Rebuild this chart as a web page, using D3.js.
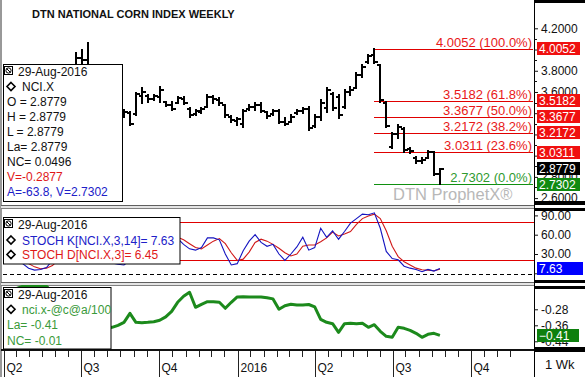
<!DOCTYPE html>
<html><head><meta charset="utf-8">
<script src="https://cdn.jsdelivr.net/npm/d3@7"></script>
<style>body{margin:0;background:#fff}svg{display:block}text{font-family:"Liberation Sans",Arial,sans-serif}</style>
</head><body><svg id="c" width="585" height="377"></svg>
<script>
// ---------------- DATA ----------------
const firstWeek = "2015-04-06";
const open  = [3.52,3.48,3.42,3.40,3.34,3.30,3.27,3.30,3.28,3.35, 3.40,3.42,3.68,3.92,3.90,3.84,3.62,3.55,3.48,3.33,
  3.38,3.40,3.39,3.56,3.56,3.53,3.55,3.51,3.48,3.50, 3.53,3.44,3.39,3.41,3.46,3.55,3.52,3.48,3.36,3.33,
  3.30,3.44,3.46,3.48,3.41,3.39,3.42,3.32,3.32,3.40, 3.42,3.44,3.28,3.36,3.45,3.58,3.55,3.46,3.60,3.64,
  3.76,3.88,3.95,3.85,3.50,3.08,3.20,3.25,3.06,2.98, 2.95,2.98,3.03,2.8283];
const high  = [3.55,3.50,3.45,3.42,3.38,3.33,3.32,3.33,3.36,3.42, 3.45,3.70,3.97,4.00,4.06,3.84,3.65,3.58,3.50,3.40,
  3.43,3.41,3.59,3.64,3.57,3.57,3.65,3.51,3.51,3.55, 3.55,3.45,3.43,3.45,3.57,3.56,3.54,3.48,3.37,3.355,
  3.43,3.48,3.50,3.50,3.41,3.43,3.43,3.355,3.38,3.43, 3.45,3.46,3.38,3.525,3.64,3.59,3.57,3.62,3.65,3.78,
  3.855,3.95,4.0052,3.855,3.506,3.213,3.29,3.26,3.072,2.987, 2.98,3.04,3.034,2.8779];
const low   = [3.45,3.40,3.36,3.32,3.28,3.25,3.24,3.25,3.27,3.32, 3.36,3.40,3.66,3.85,3.80,3.60,3.50,3.44,3.30,3.28,
  3.36,3.29,3.38,3.50,3.51,3.52,3.51,3.47,3.43,3.50, 3.49,3.36,3.38,3.40,3.46,3.50,3.48,3.36,3.32,3.29,
  3.27,3.43,3.43,3.41,3.355,3.38,3.31,3.29,3.32,3.39, 3.40,3.24,3.27,3.34,3.41,3.43,3.355,3.45,3.57,3.64,
  3.74,3.873,3.873,3.506,3.27,3.072,3.17,3.034,3.025,2.931, 2.931,2.98,2.82,2.7302];
const close = [3.48,3.42,3.40,3.34,3.30,3.27,3.30,3.28,3.35,3.40, 3.42,3.68,3.92,3.90,3.84,3.62,3.55,3.48,3.33,3.38,
  3.41,3.30,3.58,3.60,3.53,3.56,3.62,3.48,3.44,3.54, 3.50,3.38,3.42,3.44,3.55,3.53,3.50,3.38,3.34,3.35,
  3.42,3.46,3.48,3.42,3.37,3.42,3.32,3.30,3.36,3.42, 3.44,3.26,3.36,3.50,3.62,3.45,3.38,3.60,3.62,3.76,
  3.84,3.94,3.88,3.52,3.28,3.20,3.27,3.05,3.04,2.95, 2.96,3.03,2.8283,2.8779];
const stochK = [40,30,22,15,8,5,6,9,20,35, 40,65,80,85,86,55,40,35,16,14,
  13,20,45,58,55,57,65,55,58,54, 45,38,36,40,55,55,52,30,13,15,
  35,50,60,48,42,45,30,20,30,41, 56,36,40,70,56,66,53,65,78,85,
  92,91,94,70,34,23,21,11,8,6, 2.5,6,3.5,7.63];
const stochD = [45,38,30,22,15,10,7,8,12,21, 32,47,62,77,84,75,60,43,30,22,
  15,16,26,41,53,56,59,59,59,56, 52,46,40,38,44,50,54,46,32,20,
  22,33,48,53,50,45,39,32,27,30, 42,44,44,49,55,64,58,61,65,76,
  85,89,92,85,66,42,26,18,13,8, 5.5,5,4,6.45];
const basis = [-0.20,-0.19,-0.175,-0.165,-0.163,-0.163,-0.163,-0.165,-0.19,-0.22, -0.25,-0.28,-0.30,-0.32,-0.33,-0.34,-0.36,-0.375,-0.37,-0.36,
  -0.345,-0.30,-0.345,-0.347,-0.345,-0.342,-0.335,-0.318,-0.29,-0.245, -0.215,-0.195,-0.27,-0.255,-0.242,-0.242,-0.245,-0.275,-0.245,-0.218,
  -0.217,-0.218,-0.218,-0.218,-0.222,-0.228,-0.28,-0.262,-0.255,-0.258, -0.258,-0.256,-0.268,-0.33,-0.345,-0.352,-0.395,-0.352,-0.35,-0.352,
  -0.35,-0.37,-0.357,-0.39,-0.415,-0.42,-0.37,-0.375,-0.385,-0.40, -0.42,-0.405,-0.40,-0.41];

const fibValues = [4.0052,3.5182,3.3677,3.2172,3.0311,2.7302];
const fibPcts   = ["100.0%","61.8%","50.0%","38.2%","23.6%","0.0%"];
const priceTicks = [4.2,4.0,3.8,3.6,3.4,3.2,3.0,2.8,2.6];
const priceTickLabels = ["4.2000","","3.8000","3.6000","","","","2.8000","2.6000"]; // others hidden behind value boxes
const stochTicks = [90,60,30,0];
const stochTickLabels = ["90.00","60.00","30.00",""];
const stochBands = [80,20];
const basisTicks = [-0.28,-0.36,-0.44];
const basisTickLabels = ["-0.28","-0.36","-0.44"];
const quarterDates  = ["2015-04-01","2015-07-01","2015-10-01","2016-01-01","2016-04-01","2016-07-01","2016-10-01"];
const quarterLabels = ["Q2","Q3","Q4","2016","Q2","Q3","Q4"];
const lastPrice = 2.8779, lastK = 7.63, lastD = 6.45, lastBasis = -0.41;
const legendMain  = ["O = 2.8779","H = 2.8779","L = 2.8779","La= 2.8779","NC= 0.0496"];
const legendMainV = "V=-0.2877", legendMainA = "A=-63.8, V=2.7302";
const legendDate = "29-Aug-2016";

// ---------------- LAYOUT ----------------
const parse = d3.timeParse("%Y-%m-%d");
const svg = d3.select("#c");
const PL = 3, PR = 534;
const RED = "#e00000", LRED = "#e81818", GREEN = "#1c8a1c";

const x = d3.scaleTime().domain([parse("2015-07-01"), parse("2016-10-01")]).range([81, 471]);
const yP = d3.scaleLinear().domain([2.6, 4.2]).range([198.1, 28.3]);
const yS = d3.scaleLinear().domain([0, 90]).range([273.3, 215.4]);
const yB = d3.scaleLinear().domain([-0.44, -0.28]).range([341.3, 309.3]);

const start = parse(firstWeek);
const weeks = open.map((_, i) => d3.timeDay.offset(start, 7 * i));
const bx = i => Math.round(x(weeks[i]) - 3);

const defs = svg.append("defs");
function clip(id, y0, y1) { defs.append("clipPath").attr("id", id).append("rect").attr("x", PL).attr("y", y0).attr("width", PR - PL).attr("height", y1 - y0); }
clip("cm", 0, 205); clip("cs", 208, 283); clip("cb", 285, 349);

// frame and separators
svg.append("line").attr("x1", 1).attr("x2", 1).attr("y1", 0).attr("y2", 377).attr("stroke", "#333");
[[205.5, 208.5], [282.5, 285.5]].forEach(([a, b]) => {
  svg.append("rect").attr("x", 1).attr("y", a).attr("width", PR - 1).attr("height", b - a).attr("fill", "#e4e4e4");
  svg.append("line").attr("x1", 1).attr("x2", PR).attr("y1", a).attr("y2", a).attr("stroke", "#606060");
  svg.append("line").attr("x1", 1).attr("x2", PR).attr("y1", b).attr("y2", b).attr("stroke", "#808080");
});

// title
svg.append("text").attr("x", 32).attr("y", 18).attr("font-size", 11).attr("font-weight", "bold").attr("fill", "#111").text("DTN NATIONAL CORN INDEX WEEKLY");

// ---------- main panel ----------
const gm = svg.append("g").attr("clip-path", "url(#cm)");
gm.append("text").attr("x", 393).attr("y", 200).attr("font-family", "Liberation Mono, monospace").attr("font-size", 16.5)
  .attr("fill", "#b8b8b8").text("DTN ProphetX\u00AE");
const peakI = d3.maxIndex(high.slice(40)) + 40;
const fx0 = bx(peakI);
fibValues.forEach((v, k) => {
  const yy = Math.round(yP(v)) + 0.5, isLow = k === fibValues.length - 1;
  gm.append("line").attr("x1", fx0).attr("x2", 533).attr("y1", yy).attr("y2", yy)
    .attr("stroke", isLow ? "#109010" : RED).attr("stroke-width", 1).attr("shape-rendering", "crispEdges");
  gm.append("text").attr("x", 532).attr("y", yy - 3).attr("text-anchor", "end").attr("font-size", 13)
    .attr("fill", isLow ? "#2f9a2f" : LRED).text(d3.format(".4f")(v) + " (" + fibPcts[k] + ")");
});
const bars = gm.append("g").attr("stroke", "#000").attr("stroke-width", 2).attr("shape-rendering", "crispEdges");
open.forEach((o, i) => {
  const xx = bx(i);
  const g = bars.append("g");
  g.append("line").attr("x1", xx).attr("x2", xx).attr("y1", yP(high[i]) - 1).attr("y2", yP(low[i]) + 1);
  g.append("line").attr("x1", xx - 3).attr("x2", xx).attr("y1", yP(o)).attr("y2", yP(o));
  g.append("line").attr("x1", xx).attr("x2", xx + 4).attr("y1", yP(close[i])).attr("y2", yP(close[i]));
});

// ---------- stochastic panel ----------
const gs = svg.append("g").attr("clip-path", "url(#cs)");
stochBands.forEach(v => gs.append("line").attr("x1", PL).attr("x2", PR).attr("y1", Math.round(yS(v)) + 0.5).attr("y2", Math.round(yS(v)) + 0.5)
  .attr("stroke", RED).attr("shape-rendering", "crispEdges"));
gs.append("line").attr("x1", PL).attr("x2", PR).attr("y1", 274.5).attr("y2", 274.5).attr("stroke", "#000").attr("stroke-dasharray", "4,3");
const lineS = arr => d3.line().x((d, i) => x(weeks[i]) - 3).y(d => yS(d))(arr);
gs.append("path").attr("d", lineS(stochD)).attr("fill", "none").attr("stroke", "#d01818").attr("stroke-width", 1.1);
gs.append("path").attr("d", lineS(stochK)).attr("fill", "none").attr("stroke", "#1414c0").attr("stroke-width", 1.1);

// ---------- basis panel ----------
const gb = svg.append("g").attr("clip-path", "url(#cb)");
gb.append("path").attr("d", d3.line().x((d, i) => x(weeks[i]) - 3).y(d => yB(d))(basis))
  .attr("fill", "none").attr("stroke", GREEN).attr("stroke-width", 3).attr("stroke-linejoin", "round");

// ---------- x axis ----------
svg.append("rect").attr("x", 1).attr("y", 349).attr("width", PR - 1).attr("height", 2).attr("fill", "#111");
const minor = [];
d3.timeMonth.range(parse("2015-04-01"), parse("2016-12-01")).forEach(m => { minor.push(m); minor.push(d3.timeDay.offset(m, 15)); });
minor.forEach(d => { const xx = Math.round(x(d)) + 0.5; if (xx > PL && xx < PR) svg.append("line").attr("x1", xx).attr("x2", xx).attr("y1", 351).attr("y2", 357).attr("stroke", "#222"); });
quarterDates.forEach((s, k) => {
  const xx = Math.round(x(parse(s))) + 0.5;
  if (xx > PL) svg.append("line").attr("x1", xx).attr("x2", xx).attr("y1", 351).attr("y2", 377).attr("stroke", "#222");
  svg.append("text").attr("x", Math.max(xx + 2, 5)).attr("y", 372).attr("font-size", 12).attr("fill", "#111").text(quarterLabels[k]);
});

// ---------- right column ----------
svg.append("line").attr("x1", PR + 0.5).attr("x2", PR + 0.5).attr("y1", 0).attr("y2", 377).attr("stroke", "#000");
function rAxis(scale, ticks, labels) {
  const g = svg.append("g").attr("transform", `translate(${PR},0)`)
    .call(d3.axisRight(scale).tickValues(ticks).tickFormat((d, i) => labels[i]).tickSize(4).tickPadding(3));
  g.select(".domain").remove();
  g.selectAll("text").attr("font-size", 12).attr("fill", "#111").attr("font-family", "Liberation Sans, Arial, sans-serif");
  g.selectAll("line").attr("stroke", "#111");
  return g;
}
rAxis(yP, priceTicks, priceTickLabels);
rAxis(yS, stochTicks, stochTickLabels);
rAxis(yB, basisTicks, basisTickLabels);
// minor price ticks
d3.range(2.7, 4.2, 0.2).forEach(v => svg.append("line").attr("x1", PR).attr("x2", PR + 3).attr("y1", Math.round(yP(v)) + 0.5).attr("y2", Math.round(yP(v)) + 0.5).attr("stroke", "#111"));

function valBox(v, scale, fill, txt, w) {
  const yy = scale(v);
  svg.append("rect").attr("x", 537).attr("y", Math.round(yy - 6.5)).attr("width", w || 43).attr("height", 13).attr("fill", fill);
  svg.append("text").attr("x", 539).attr("y", yy + 4.5).attr("font-size", 12).attr("fill", "#fff").text(txt);
}
fibValues.slice(0, 5).forEach(v => valBox(v, yP, "#f01010", d3.format(".4f")(v)));
valBox(lastPrice, yP, "#000", d3.format(".4f")(lastPrice));
valBox(fibValues[5], yP, "#118a11", d3.format(".4f")(fibValues[5]));
valBox(lastK, yS, "#0000ff", d3.format(".2f")(lastK), 46);
valBox(lastBasis, yB, "#0e800e", d3.format(".2f")(lastBasis), 42);

// black bars in right column
[[0, 3], [201, 205], [208, 211], [280, 283], [286, 289], [347, 352]].forEach(([a, b]) =>
  svg.append("rect").attr("x", PR).attr("y", a).attr("width", 585 - PR).attr("height", b - a).attr("fill", "#000"));
svg.append("text").attr("x", 545).attr("y", 369).attr("font-family", "Liberation Mono, monospace").attr("font-size", 13).attr("fill", "#111").text("1 Wk");

// ---------- legends ----------
function icon(g, x0, y0) {
  g.append("rect").attr("x", x0 + 0.5).attr("y", y0 + 0.5).attr("width", 8).attr("height", 8).attr("fill", "#fff").attr("stroke", "#000");
  g.append("circle").attr("cx", x0 + 4.5).attr("cy", y0 + 4.5).attr("r", 2.6).attr("fill", "none").attr("stroke", "#000");
  g.append("line").attr("x1", x0 + 2.5).attr("y1", y0 + 2.5).attr("x2", x0 + 6.5).attr("y2", y0 + 6.5).attr("stroke", "#000");
}
function diamond(g, cx, cy) {
  g.append("path").attr("d", `M${cx},${cy - 4}L${cx + 4},${cy}L${cx},${cy + 4}L${cx - 4},${cy}Z`).attr("fill", "#fff").attr("stroke", "#000").attr("stroke-width", 1.6);
}
function legendBox(x0, y0, w, h) {
  const g = svg.append("g");
  g.append("rect").attr("x", x0 + 0.5).attr("y", y0 + 0.5).attr("width", w).attr("height", h).attr("fill", "#fff").attr("stroke", "#000");
  return g;
}
function t(g, x0, y0, s, col) { g.append("text").attr("x", x0).attr("y", y0).attr("font-size", 12).attr("fill", col || "#111").text(s); }

const lm = legendBox(3, 64, 119, 137);
icon(lm, 4, 66); t(lm, 18, 76, legendDate);
diamond(lm, 11, 86.5); t(lm, 22, 91, "NCI.X");
legendMain.forEach((s, k) => t(lm, 7, 106 + 15 * k, s));
t(lm, 7, 181, legendMainV, "#e01818");
t(lm, 7, 196, legendMainA, "#2020c8");

const ls = legendBox(3, 217, 176.5, 46.5);
icon(ls, 4, 219); t(ls, 18, 228.5, legendDate);
diamond(ls, 11, 240); t(ls, 22, 244.5, "STOCH K[NCI.X,3,14]= " + lastK.toFixed(2), "#2020c8");
diamond(ls, 11, 254.5); t(ls, 22, 259, "STOCH D[NCI.X,3]= " + lastD.toFixed(2), "#e01818");

const lb = legendBox(3, 287, 107.5, 61.5);
icon(lb, 4, 289); t(lb, 18, 299, legendDate);
diamond(lb, 11, 309.3); t(lb, 22, 314, "nci.x-@c@a/100", "#3a9a3a");
t(lb, 7, 329, "La= " + lastBasis.toFixed(2), "#3a9a3a");
t(lb, 7, 344.5, "NC= -0.01", "#3a9a3a");
</script></body></html>
